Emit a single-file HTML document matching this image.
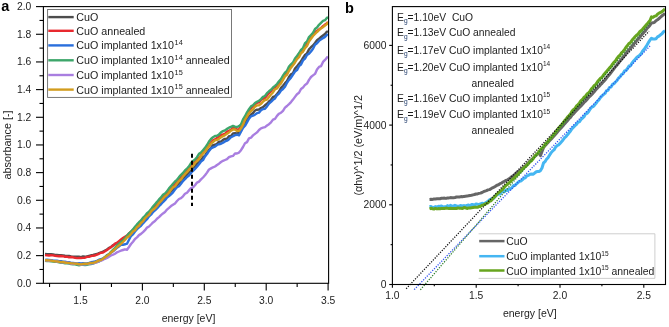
<!DOCTYPE html>
<html><head><meta charset="utf-8"><style>html,body{margin:0;padding:0;background:#fff;width:669px;height:327px;overflow:hidden}svg{display:block;will-change:transform}</style></head>
<body><svg width="669" height="327" viewBox="0 0 669 327"><path d="M45.0,253.9 L47.0,254.1 L49.0,254.3 L51.0,254.1 L53.0,254.4 L55.0,254.9 L57.0,255.0 L59.0,255.1 L61.0,255.2 L63.0,255.4 L65.0,255.7 L67.0,255.9 L69.0,255.9 L71.0,256.5 L73.0,256.6 L75.0,256.8 L77.0,256.7 L79.0,256.8 L81.0,257.1 L83.0,256.5 L85.0,256.8 L87.0,256.3 L89.0,255.8 L91.0,255.3 L93.0,255.0 L95.0,254.5 L97.0,254.0 L99.0,253.2 L101.0,252.5 L103.0,251.7 L105.0,250.5 L107.0,249.5 L109.0,247.9 L111.0,247.2 L113.0,245.2 L115.0,244.2 L117.0,242.9 L119.0,242.2 L121.0,240.8 L123.0,239.8 L125.0,238.5 L127.0,236.5 L129.0,234.5 L131.0,232.8 L133.0,230.5 L135.0,228.9 L137.0,226.4 L139.0,224.7 L141.0,223.4 L143.0,221.0 L145.0,219.2 L147.0,217.2 L149.0,215.7 L151.0,213.2 L153.0,210.9 L155.0,209.6 L157.0,207.0 L159.0,204.7 L161.0,202.1 L163.0,200.6 L165.0,198.5 L167.0,196.4 L169.0,194.3 L171.0,191.3 L173.0,190.0 L175.0,187.3 L177.0,185.6 L179.0,183.2 L181.0,181.0 L183.0,178.8 L185.0,177.2 L187.0,174.8 L189.0,172.4 L191.0,170.9 L193.0,167.9 L195.0,166.4 L197.0,163.7 L199.0,162.3 L201.0,160.1 L203.0,157.2 L205.0,155.8 L207.0,152.4 L209.0,149.9 L211.0,147.7 L213.0,145.1 L215.0,144.8 L217.0,143.8 L219.0,141.7 L221.0,141.6 L223.0,139.9 L225.0,138.9 L227.0,138.7 L229.0,136.2 L231.0,136.0 L233.0,133.4 L235.0,133.3 L237.0,133.5 L239.0,132.7 L241.0,129.4 L243.0,125.8 L245.0,122.9 L247.0,119.8 L249.0,116.7 L251.0,114.5 L253.0,113.1 L255.0,110.5 L257.0,109.7 L259.0,109.5 L261.0,108.0 L263.0,107.2 L265.0,105.3 L267.0,103.8 L269.0,101.5 L271.0,99.8 L273.0,97.0 L275.0,96.3 L277.0,94.0 L279.0,91.5 L281.0,87.9 L283.0,85.7 L285.0,83.2 L287.0,81.1 L289.0,76.9 L291.0,74.3 L293.0,73.2 L295.0,68.6 L297.0,66.4 L299.0,63.7 L301.0,61.4 L303.0,57.9 L305.0,55.0 L307.0,53.4 L309.0,49.4 L311.0,47.2 L313.0,45.4 L315.0,43.0 L317.0,40.3 L319.0,38.8 L321.0,37.0 L323.0,35.5 L325.0,34.0 L327.0,31.6 L328.0,31.9" fill="none" stroke="#4d4d4d" stroke-width="2.4" stroke-linejoin="round"/>
<path d="M45.0,255.1 L47.0,255.4 L49.0,255.5 L51.0,255.3 L53.0,255.4 L55.0,255.8 L57.0,256.0 L59.0,256.2 L61.0,256.0 L63.0,256.2 L65.0,256.8 L67.0,256.6 L69.0,257.3 L71.0,257.0 L73.0,257.3 L75.0,257.8 L77.0,258.1 L79.0,258.0 L81.0,258.0 L83.0,257.9 L85.0,257.7 L87.0,256.9 L89.0,256.9 L91.0,256.2 L93.0,255.7 L95.0,255.5 L97.0,254.6 L99.0,253.8 L101.0,252.8 L103.0,252.5 L105.0,251.2 L107.0,249.9 L109.0,248.6 L111.0,247.0 L113.0,245.8 L115.0,243.7 L117.0,242.9 L119.0,241.1 L121.0,239.5 L123.0,238.1 L125.0,236.7 L127.0,235.5 L129.0,233.4 L131.0,231.7 L133.0,230.1 L135.0,227.9 L137.0,226.1 L139.0,223.6 L141.0,221.5 L143.0,219.1 L145.0,217.2 L147.0,215.0 L149.0,213.2 L151.0,210.6 L153.0,208.8 L155.0,206.5 L157.0,204.0 L159.0,201.5 L161.0,199.8 L163.0,197.8 L165.0,194.8 L167.0,192.6 L169.0,191.1 L171.0,188.2 L173.0,186.0 L175.0,184.3 L177.0,181.3 L179.0,179.3 L181.0,177.5 L183.0,174.5 L185.0,172.9 L187.0,170.4 L189.0,169.1 L191.0,166.4 L193.0,163.8 L195.0,161.3 L197.0,160.1 L199.0,157.9 L201.0,155.5 L203.0,152.5 L205.0,150.7 L207.0,147.6 L209.0,145.7 L211.0,142.3 L213.0,140.4 L215.0,139.4 L217.0,138.0 L219.0,136.9 L221.0,135.0 L223.0,134.5 L225.0,133.8 L227.0,131.6 L229.0,130.9 L231.0,129.7 L233.0,128.0 L235.0,127.5 L237.0,129.8 L239.0,129.3 L241.0,125.5 L243.0,122.7 L245.0,118.2 L247.0,114.8 L249.0,110.4 L251.0,108.1 L253.0,106.1 L255.0,104.2 L257.0,102.7 L259.0,102.4 L261.0,99.9 L263.0,98.8 L265.0,97.9 L267.0,95.5 L269.0,93.0 L271.0,91.2 L273.0,88.4 L275.0,87.4 L277.0,85.3 L279.0,83.3 L281.0,80.1 L283.0,77.6 L285.0,74.9 L287.0,72.4 L289.0,69.1 L291.0,65.1 L293.0,63.6 L295.0,60.5 L297.0,57.0 L299.0,53.9 L301.0,52.3 L303.0,49.2 L305.0,47.1 L307.0,44.0 L309.0,39.6 L311.0,37.2 L313.0,35.0 L315.0,32.0 L317.0,30.9 L319.0,29.5 L321.0,28.1 L323.0,26.1 L325.0,24.6 L327.0,23.3 L328.0,21.9" fill="none" stroke="#e8292f" stroke-width="2.4" stroke-linejoin="round"/>
<path d="M45.0,259.9 L47.0,259.8 L49.0,259.9 L51.0,260.1 L53.0,260.5 L55.0,260.6 L57.0,260.8 L59.0,261.2 L61.0,261.2 L63.0,261.7 L65.0,261.8 L67.0,262.2 L69.0,262.2 L71.0,262.9 L73.0,263.0 L75.0,263.1 L77.0,263.4 L79.0,263.3 L81.0,263.4 L83.0,263.3 L85.0,263.5 L87.0,263.4 L89.0,262.9 L91.0,262.3 L93.0,261.9 L95.0,261.5 L97.0,260.9 L99.0,259.7 L101.0,259.2 L103.0,258.2 L105.0,257.1 L107.0,255.2 L109.0,254.3 L111.0,252.4 L113.0,251.2 L115.0,249.6 L117.0,247.7 L119.0,246.4 L121.0,244.8 L123.0,244.7 L125.0,244.3 L127.0,243.7 L129.0,239.7 L131.0,236.0 L133.0,234.4 L135.0,231.6 L137.0,229.2 L139.0,227.3 L141.0,225.7 L143.0,223.3 L145.0,221.2 L147.0,219.2 L149.0,216.4 L151.0,214.7 L153.0,212.0 L155.0,210.4 L157.0,208.4 L159.0,206.1 L161.0,204.3 L163.0,202.0 L165.0,200.2 L167.0,197.6 L169.0,196.1 L171.0,194.3 L173.0,192.3 L175.0,189.6 L177.0,187.2 L179.0,186.2 L181.0,183.7 L183.0,181.0 L185.0,179.2 L187.0,177.0 L189.0,175.6 L191.0,173.0 L193.0,170.8 L195.0,168.8 L197.0,166.7 L199.0,164.3 L201.0,161.5 L203.0,160.1 L205.0,156.5 L207.0,154.1 L209.0,150.9 L211.0,148.4 L213.0,147.4 L215.0,146.6 L217.0,145.0 L219.0,144.2 L221.0,143.8 L223.0,142.8 L225.0,141.4 L227.0,140.7 L229.0,139.2 L231.0,137.2 L233.0,136.2 L235.0,135.1 L237.0,134.7 L239.0,135.3 L241.0,131.7 L243.0,128.0 L245.0,125.8 L247.0,122.3 L249.0,118.7 L251.0,116.3 L253.0,115.7 L255.0,114.6 L257.0,113.2 L259.0,112.6 L261.0,110.3 L263.0,109.0 L265.0,108.7 L267.0,106.4 L269.0,103.5 L271.0,101.8 L273.0,99.8 L275.0,98.5 L277.0,95.2 L279.0,93.6 L281.0,90.6 L283.0,89.0 L285.0,86.8 L287.0,82.8 L289.0,79.9 L291.0,77.6 L293.0,74.5 L295.0,71.5 L297.0,70.1 L299.0,66.2 L301.0,64.5 L303.0,60.4 L305.0,58.6 L307.0,54.9 L309.0,53.7 L311.0,51.4 L313.0,48.8 L315.0,44.7 L317.0,43.3 L319.0,40.9 L321.0,39.4 L323.0,38.1 L325.0,36.9 L327.0,34.7 L328.0,35.1" fill="none" stroke="#2a6fdc" stroke-width="2.4" stroke-linejoin="round"/>
<path d="M45.0,260.9 L47.0,261.1 L49.0,261.0 L51.0,261.4 L53.0,261.5 L55.0,261.8 L57.0,261.8 L59.0,262.3 L61.0,262.7 L63.0,262.9 L65.0,263.2 L67.0,263.3 L69.0,263.5 L71.0,264.1 L73.0,264.3 L75.0,264.4 L77.0,264.9 L79.0,265.2 L81.0,264.9 L83.0,264.9 L85.0,265.1 L87.0,264.7 L89.0,264.4 L91.0,264.0 L93.0,263.6 L95.0,262.6 L97.0,262.0 L99.0,261.5 L101.0,260.2 L103.0,259.1 L105.0,257.2 L107.0,255.5 L109.0,254.2 L111.0,251.8 L113.0,249.8 L115.0,247.8 L117.0,245.6 L119.0,243.7 L121.0,242.0 L123.0,240.3 L125.0,238.3 L127.0,235.8 L129.0,233.4 L131.0,231.6 L133.0,229.4 L135.0,226.8 L137.0,224.4 L139.0,222.2 L141.0,220.4 L143.0,217.6 L145.0,216.0 L147.0,213.1 L149.0,211.6 L151.0,209.4 L153.0,206.5 L155.0,204.2 L157.0,201.9 L159.0,199.4 L161.0,197.4 L163.0,194.8 L165.0,193.5 L167.0,191.3 L169.0,188.3 L171.0,186.2 L173.0,183.7 L175.0,181.5 L177.0,179.8 L179.0,177.1 L181.0,174.8 L183.0,173.0 L185.0,170.4 L187.0,168.5 L189.0,166.4 L191.0,163.1 L193.0,160.9 L195.0,159.6 L197.0,157.2 L199.0,153.8 L201.0,152.6 L203.0,150.2 L205.0,147.9 L207.0,145.0 L209.0,141.5 L211.0,139.0 L213.0,137.2 L215.0,136.0 L217.0,135.7 L219.0,134.4 L221.0,132.3 L223.0,131.1 L225.0,130.3 L227.0,128.9 L229.0,127.7 L231.0,126.8 L233.0,125.9 L235.0,126.6 L237.0,127.0 L239.0,126.1 L241.0,124.4 L243.0,119.4 L245.0,116.2 L247.0,112.4 L249.0,109.2 L251.0,106.4 L253.0,105.2 L255.0,103.0 L257.0,101.7 L259.0,100.7 L261.0,99.1 L263.0,96.9 L265.0,96.0 L267.0,93.1 L269.0,91.3 L271.0,89.7 L273.0,87.5 L275.0,85.9 L277.0,84.0 L279.0,81.3 L281.0,79.2 L283.0,75.7 L285.0,72.6 L287.0,70.8 L289.0,66.6 L291.0,64.3 L293.0,62.5 L295.0,58.5 L297.0,56.0 L299.0,53.3 L301.0,49.9 L303.0,48.0 L305.0,43.1 L307.0,41.5 L309.0,37.1 L311.0,35.0 L313.0,32.9 L315.0,29.0 L317.0,27.5 L319.0,24.8 L321.0,22.8 L323.0,20.9 L325.0,20.2 L327.0,17.7 L328.0,17.5" fill="none" stroke="#3da66a" stroke-width="2.4" stroke-linejoin="round"/>
<path d="M45.0,260.3 L47.0,260.5 L49.0,260.8 L51.0,260.8 L53.0,260.9 L55.0,261.1 L57.0,261.5 L59.0,261.9 L61.0,262.2 L63.0,262.1 L65.0,262.5 L67.0,262.7 L69.0,263.0 L71.0,263.7 L73.0,263.9 L75.0,263.8 L77.0,263.9 L79.0,264.3 L81.0,264.6 L83.0,264.4 L85.0,264.2 L87.0,264.1 L89.0,263.9 L91.0,263.4 L93.0,263.3 L95.0,262.9 L97.0,262.2 L99.0,261.2 L101.0,260.6 L103.0,259.8 L105.0,258.8 L107.0,258.0 L109.0,256.7 L111.0,255.5 L113.0,254.7 L115.0,253.7 L117.0,252.3 L119.0,251.5 L121.0,250.7 L123.0,250.0 L125.0,249.3 L127.0,249.8 L129.0,247.0 L131.0,244.0 L133.0,241.7 L135.0,239.0 L137.0,237.4 L139.0,235.1 L141.0,233.9 L143.0,232.2 L145.0,230.2 L147.0,227.6 L149.0,226.5 L151.0,224.5 L153.0,222.4 L155.0,221.0 L157.0,218.7 L159.0,217.1 L161.0,215.1 L163.0,213.4 L165.0,212.0 L167.0,209.6 L169.0,207.9 L171.0,206.1 L173.0,204.7 L175.0,203.4 L177.0,201.0 L179.0,199.0 L181.0,198.1 L183.0,196.3 L185.0,193.8 L187.0,192.7 L189.0,190.4 L191.0,188.1 L193.0,187.4 L195.0,185.2 L197.0,182.6 L199.0,181.6 L201.0,179.4 L203.0,177.5 L205.0,175.3 L207.0,172.6 L209.0,169.5 L211.0,168.4 L213.0,167.3 L215.0,166.5 L217.0,165.0 L219.0,163.7 L221.0,162.0 L223.0,160.8 L225.0,160.0 L227.0,159.2 L229.0,157.2 L231.0,156.4 L233.0,155.9 L235.0,153.5 L237.0,153.5 L239.0,152.6 L241.0,150.2 L243.0,147.0 L245.0,143.3 L247.0,142.1 L249.0,138.4 L251.0,137.7 L253.0,135.4 L255.0,133.9 L257.0,132.4 L259.0,130.0 L261.0,128.3 L263.0,127.6 L265.0,127.1 L267.0,125.5 L269.0,124.2 L271.0,122.3 L273.0,119.6 L275.0,118.8 L277.0,115.8 L279.0,113.7 L281.0,112.7 L283.0,110.8 L285.0,107.7 L287.0,106.0 L289.0,104.1 L291.0,102.1 L293.0,99.6 L295.0,96.9 L297.0,94.2 L299.0,92.8 L301.0,89.0 L303.0,87.6 L305.0,84.9 L307.0,83.6 L309.0,79.9 L311.0,77.0 L313.0,75.4 L315.0,73.9 L317.0,69.4 L319.0,66.9 L321.0,66.2 L323.0,61.9 L325.0,59.9 L327.0,57.5 L328.0,56.6" fill="none" stroke="#a97ee0" stroke-width="2.4" stroke-linejoin="round"/>
<path d="M45.0,260.2 L47.0,260.3 L49.0,260.4 L51.0,260.6 L53.0,261.0 L55.0,261.3 L57.0,261.4 L59.0,261.7 L61.0,262.1 L63.0,261.9 L65.0,262.6 L67.0,262.8 L69.0,262.9 L71.0,263.3 L73.0,263.4 L75.0,263.6 L77.0,263.8 L79.0,264.1 L81.0,264.4 L83.0,263.9 L85.0,263.7 L87.0,263.8 L89.0,263.3 L91.0,262.9 L93.0,262.7 L95.0,262.4 L97.0,261.4 L99.0,260.4 L101.0,260.0 L103.0,258.8 L105.0,257.2 L107.0,255.7 L109.0,254.5 L111.0,252.4 L113.0,251.0 L115.0,249.2 L117.0,247.0 L119.0,245.6 L121.0,243.9 L123.0,242.0 L125.0,240.0 L127.0,237.6 L129.0,236.3 L131.0,234.0 L133.0,231.6 L135.0,230.2 L137.0,227.3 L139.0,225.7 L141.0,223.0 L143.0,221.4 L145.0,218.3 L147.0,216.4 L149.0,214.9 L151.0,211.7 L153.0,209.7 L155.0,208.2 L157.0,206.0 L159.0,203.1 L161.0,201.2 L163.0,198.8 L165.0,196.5 L167.0,195.0 L169.0,192.7 L171.0,189.8 L173.0,187.4 L175.0,186.2 L177.0,183.5 L179.0,181.1 L181.0,179.5 L183.0,176.6 L185.0,174.2 L187.0,172.2 L189.0,169.7 L191.0,167.9 L193.0,165.9 L195.0,163.0 L197.0,161.1 L199.0,159.2 L201.0,155.9 L203.0,153.5 L205.0,151.7 L207.0,148.8 L209.0,146.2 L211.0,143.6 L213.0,142.0 L215.0,140.4 L217.0,139.9 L219.0,138.8 L221.0,137.3 L223.0,136.1 L225.0,135.1 L227.0,133.7 L229.0,132.4 L231.0,130.7 L233.0,129.5 L235.0,129.5 L237.0,130.9 L239.0,130.9 L241.0,128.3 L243.0,124.7 L245.0,119.9 L247.0,116.7 L249.0,113.1 L251.0,111.0 L253.0,109.3 L255.0,106.6 L257.0,105.4 L259.0,105.4 L261.0,103.8 L263.0,101.7 L265.0,100.0 L267.0,99.5 L269.0,96.9 L271.0,94.5 L273.0,92.4 L275.0,89.3 L277.0,88.5 L279.0,85.5 L281.0,83.4 L283.0,79.9 L285.0,76.3 L287.0,74.7 L289.0,70.8 L291.0,67.6 L293.0,65.3 L295.0,62.5 L297.0,59.2 L299.0,57.2 L301.0,53.3 L303.0,51.7 L305.0,48.1 L307.0,45.9 L309.0,41.5 L311.0,38.8 L313.0,36.0 L315.0,34.0 L317.0,32.0 L319.0,30.2 L321.0,28.3 L323.0,27.2 L325.0,25.5 L327.0,24.1 L328.0,21.9" fill="none" stroke="#d29c1e" stroke-width="2.4" stroke-linejoin="round"/>
<line x1="192" y1="153.7" x2="192" y2="206" stroke="#000" stroke-width="2" stroke-dasharray="4 3"/>
<rect x="43.4" y="6.6" width="285.20000000000005" height="276.7" fill="none" stroke="#000" stroke-width="1.1"/>
<line x1="36" y1="283.30" x2="43.4" y2="283.30" stroke="#000" stroke-width="1.1"/>
<text x="31.3" y="286.60" text-anchor="end" font-family="'Liberation Sans', sans-serif" font-size="10.3" fill="#1c1c1c">0.0</text>
<line x1="39.5" y1="269.47" x2="43.4" y2="269.47" stroke="#000" stroke-width="1.1"/>
<line x1="36" y1="255.63" x2="43.4" y2="255.63" stroke="#000" stroke-width="1.1"/>
<text x="31.3" y="258.93" text-anchor="end" font-family="'Liberation Sans', sans-serif" font-size="10.3" fill="#1c1c1c">0.2</text>
<line x1="39.5" y1="241.80" x2="43.4" y2="241.80" stroke="#000" stroke-width="1.1"/>
<line x1="36" y1="227.96" x2="43.4" y2="227.96" stroke="#000" stroke-width="1.1"/>
<text x="31.3" y="231.26" text-anchor="end" font-family="'Liberation Sans', sans-serif" font-size="10.3" fill="#1c1c1c">0.4</text>
<line x1="39.5" y1="214.12" x2="43.4" y2="214.12" stroke="#000" stroke-width="1.1"/>
<line x1="36" y1="200.29" x2="43.4" y2="200.29" stroke="#000" stroke-width="1.1"/>
<text x="31.3" y="203.59" text-anchor="end" font-family="'Liberation Sans', sans-serif" font-size="10.3" fill="#1c1c1c">0.6</text>
<line x1="39.5" y1="186.46" x2="43.4" y2="186.46" stroke="#000" stroke-width="1.1"/>
<line x1="36" y1="172.62" x2="43.4" y2="172.62" stroke="#000" stroke-width="1.1"/>
<text x="31.3" y="175.92" text-anchor="end" font-family="'Liberation Sans', sans-serif" font-size="10.3" fill="#1c1c1c">0.8</text>
<line x1="39.5" y1="158.79" x2="43.4" y2="158.79" stroke="#000" stroke-width="1.1"/>
<line x1="36" y1="144.95" x2="43.4" y2="144.95" stroke="#000" stroke-width="1.1"/>
<text x="31.3" y="148.25" text-anchor="end" font-family="'Liberation Sans', sans-serif" font-size="10.3" fill="#1c1c1c">1.0</text>
<line x1="39.5" y1="131.12" x2="43.4" y2="131.12" stroke="#000" stroke-width="1.1"/>
<line x1="36" y1="117.28" x2="43.4" y2="117.28" stroke="#000" stroke-width="1.1"/>
<text x="31.3" y="120.58" text-anchor="end" font-family="'Liberation Sans', sans-serif" font-size="10.3" fill="#1c1c1c">1.2</text>
<line x1="39.5" y1="103.45" x2="43.4" y2="103.45" stroke="#000" stroke-width="1.1"/>
<line x1="36" y1="89.61" x2="43.4" y2="89.61" stroke="#000" stroke-width="1.1"/>
<text x="31.3" y="92.91" text-anchor="end" font-family="'Liberation Sans', sans-serif" font-size="10.3" fill="#1c1c1c">1.4</text>
<line x1="39.5" y1="75.78" x2="43.4" y2="75.78" stroke="#000" stroke-width="1.1"/>
<line x1="36" y1="61.94" x2="43.4" y2="61.94" stroke="#000" stroke-width="1.1"/>
<text x="31.3" y="65.24" text-anchor="end" font-family="'Liberation Sans', sans-serif" font-size="10.3" fill="#1c1c1c">1.6</text>
<line x1="39.5" y1="48.11" x2="43.4" y2="48.11" stroke="#000" stroke-width="1.1"/>
<line x1="36" y1="34.27" x2="43.4" y2="34.27" stroke="#000" stroke-width="1.1"/>
<text x="31.3" y="37.57" text-anchor="end" font-family="'Liberation Sans', sans-serif" font-size="10.3" fill="#1c1c1c">1.8</text>
<line x1="39.5" y1="20.44" x2="43.4" y2="20.44" stroke="#000" stroke-width="1.1"/>
<line x1="36" y1="6.60" x2="43.4" y2="6.60" stroke="#000" stroke-width="1.1"/>
<text x="31.3" y="9.90" text-anchor="end" font-family="'Liberation Sans', sans-serif" font-size="10.3" fill="#1c1c1c">2.0</text>
<line x1="49.55" y1="283.3" x2="49.55" y2="287" stroke="#000" stroke-width="1.1"/>
<line x1="80.50" y1="283.3" x2="80.50" y2="290.6" stroke="#000" stroke-width="1.1"/>
<text x="80.50" y="303.9" text-anchor="middle" font-family="'Liberation Sans', sans-serif" font-size="10.3" fill="#1c1c1c">1.5</text>
<line x1="111.45" y1="283.3" x2="111.45" y2="287" stroke="#000" stroke-width="1.1"/>
<line x1="142.40" y1="283.3" x2="142.40" y2="290.6" stroke="#000" stroke-width="1.1"/>
<text x="142.40" y="303.9" text-anchor="middle" font-family="'Liberation Sans', sans-serif" font-size="10.3" fill="#1c1c1c">2.0</text>
<line x1="173.35" y1="283.3" x2="173.35" y2="287" stroke="#000" stroke-width="1.1"/>
<line x1="204.30" y1="283.3" x2="204.30" y2="290.6" stroke="#000" stroke-width="1.1"/>
<text x="204.30" y="303.9" text-anchor="middle" font-family="'Liberation Sans', sans-serif" font-size="10.3" fill="#1c1c1c">2.5</text>
<line x1="235.25" y1="283.3" x2="235.25" y2="287" stroke="#000" stroke-width="1.1"/>
<line x1="266.20" y1="283.3" x2="266.20" y2="290.6" stroke="#000" stroke-width="1.1"/>
<text x="266.20" y="303.9" text-anchor="middle" font-family="'Liberation Sans', sans-serif" font-size="10.3" fill="#1c1c1c">3.0</text>
<line x1="297.15" y1="283.3" x2="297.15" y2="287" stroke="#000" stroke-width="1.1"/>
<line x1="328.10" y1="283.3" x2="328.10" y2="290.6" stroke="#000" stroke-width="1.1"/>
<text x="328.10" y="303.9" text-anchor="middle" font-family="'Liberation Sans', sans-serif" font-size="10.3" fill="#1c1c1c">3.5</text>
<text x="188.5" y="322.2" text-anchor="middle" font-family="'Liberation Sans', sans-serif" font-size="10.5" fill="#1c1c1c">energy [eV]</text>
<text transform="translate(10.7,145) rotate(-90)" text-anchor="middle" font-family="'Liberation Sans', sans-serif" font-size="10.8" fill="#1c1c1c">absorbance [-]</text>
<text x="1.2" y="10.6" font-family="'Liberation Sans', sans-serif" font-size="14.5" font-weight="bold" fill="#000">a</text>
<rect x="47.6" y="9.5" width="183.9" height="87.9" fill="#fff" stroke="#6a6a6a" stroke-width="0.9"/>
<line x1="48.3" y1="17.1" x2="73.7" y2="17.1" stroke="#4d4d4d" stroke-width="2.4"/>
<text transform="translate(76.3,21.0) scale(1.03,1)" font-family="'Liberation Sans', sans-serif" font-size="10.4" fill="#1c1c1c">CuO</text>
<line x1="48.3" y1="30.8" x2="73.7" y2="30.8" stroke="#e8292f" stroke-width="2.4"/>
<text transform="translate(76.3,34.7) scale(1.03,1)" font-family="'Liberation Sans', sans-serif" font-size="10.4" fill="#1c1c1c">CuO annealed</text>
<line x1="48.3" y1="45.4" x2="73.7" y2="45.4" stroke="#2a6fdc" stroke-width="2.4"/>
<text transform="translate(76.3,49.3) scale(1.03,1)" font-family="'Liberation Sans', sans-serif" font-size="10.4" fill="#1c1c1c">CuO implanted 1x10<tspan font-size="7.1" dx="0.7" dy="-4.2">14</tspan></text>
<line x1="48.3" y1="60.3" x2="73.7" y2="60.3" stroke="#3da66a" stroke-width="2.4"/>
<text transform="translate(76.3,64.2) scale(1.03,1)" font-family="'Liberation Sans', sans-serif" font-size="10.4" fill="#1c1c1c">CuO implanted 1x10<tspan font-size="7.1" dx="0.7" dy="-4.2">14</tspan><tspan dy="4.2"> annealed</tspan></text>
<line x1="48.3" y1="75.0" x2="73.7" y2="75.0" stroke="#a97ee0" stroke-width="2.4"/>
<text transform="translate(76.3,78.9) scale(1.03,1)" font-family="'Liberation Sans', sans-serif" font-size="10.4" fill="#1c1c1c">CuO implanted 1x10<tspan font-size="7.1" dx="0.7" dy="-4.2">15</tspan></text>
<line x1="48.3" y1="89.6" x2="73.7" y2="89.6" stroke="#d29c1e" stroke-width="2.4"/>
<text transform="translate(76.3,93.5) scale(1.03,1)" font-family="'Liberation Sans', sans-serif" font-size="10.4" fill="#1c1c1c">CuO implanted 1x10<tspan font-size="7.1" dx="0.7" dy="-4.2">15</tspan><tspan dy="4.2"> annealed</tspan></text>
<path d="M429.5,199.4 L431.0,199.3 L432.5,199.4 L434.0,199.0 L435.5,198.9 L437.0,198.7 L438.5,198.8 L440.0,198.7 L441.5,198.3 L443.0,198.2 L444.5,198.1 L446.0,198.4 L447.5,198.0 L449.0,197.9 L450.5,197.6 L452.0,197.7 L453.5,197.7 L455.0,197.5 L456.5,197.0 L458.0,197.1 L459.5,197.0 L461.0,196.6 L462.5,196.8 L464.0,196.4 L465.5,196.2 L467.0,196.1 L468.5,195.8 L470.0,195.5 L471.5,195.3 L473.0,194.9 L474.5,194.5 L476.0,194.0 L477.5,193.9 L479.0,193.4 L480.5,193.1 L482.0,192.5 L483.5,191.7 L485.0,191.1 L486.5,190.6 L488.0,189.9 L489.5,189.6 L491.0,188.7 L492.5,187.8 L494.0,187.2 L495.5,186.3 L497.0,185.2 L498.5,184.8 L500.0,183.7 L501.5,183.2 L503.0,182.0 L504.5,181.2 L506.0,180.4 L507.5,179.8 L509.0,178.9 L510.5,177.8 L512.0,176.4 L513.5,175.4 L515.0,174.3 L516.5,172.7 L518.0,172.0 L519.5,170.7 L521.0,169.5 L522.5,168.1 L524.0,166.8 L525.5,165.7 L527.0,163.9 L528.5,162.5 L530.0,161.0 L531.5,159.6 L533.0,158.4 L534.5,156.6 L536.0,155.5 L537.5,153.8 L539.0,152.7 L540.5,155.6 L542.0,151.5 L543.5,147.7 L545.0,145.6 L546.5,144.1 L548.0,142.4 L549.5,140.8 L551.0,139.2 L552.5,137.6 L554.0,135.9 L555.5,134.3 L557.0,132.5 L558.5,130.6 L560.0,129.0 L561.5,127.4 L563.0,125.8 L564.5,123.9 L566.0,122.2 L567.5,120.6 L569.0,118.7 L570.5,117.4 L572.0,115.2 L573.5,113.9 L575.0,112.1 L576.5,110.4 L578.0,108.9 L579.5,107.3 L581.0,105.9 L582.5,104.3 L584.0,102.5 L585.5,101.1 L587.0,99.5 L588.5,97.5 L590.0,96.2 L591.5,94.6 L593.0,93.1 L594.5,91.4 L596.0,89.6 L597.5,87.9 L599.0,86.5 L600.5,84.7 L602.0,83.3 L603.5,81.6 L605.0,80.0 L606.5,78.0 L608.0,76.1 L609.5,74.5 L611.0,72.5 L612.5,70.5 L614.0,68.7 L615.5,66.7 L617.0,65.0 L618.5,63.0 L620.0,61.0 L621.5,59.4 L623.0,57.5 L624.5,55.6 L626.0,53.4 L627.5,51.5 L629.0,49.9 L630.5,48.1 L632.0,46.3 L633.5,44.3 L635.0,42.8 L636.5,40.9 L638.0,39.1 L639.5,37.5 L641.0,35.7 L642.5,34.0 L644.0,32.3 L645.5,30.7 L647.0,28.5 L648.5,27.0 L650.0,25.3 L651.5,23.0 L653.0,22.8 L654.5,22.3 L656.0,20.7 L657.5,19.8 L659.0,18.5 L660.5,17.2 L662.0,15.8 L663.5,14.7 L665.0,13.4" fill="none" stroke="#666666" stroke-width="3" stroke-linejoin="round"/>
<path d="M429.5,206.8 L431.0,206.4 L432.5,207.4 L434.0,207.1 L435.5,206.6 L437.0,206.9 L438.5,206.3 L440.0,206.5 L441.5,205.9 L443.0,206.9 L444.5,206.7 L446.0,206.7 L447.5,205.6 L449.0,206.7 L450.5,205.4 L452.0,206.2 L453.5,206.0 L455.0,205.3 L456.5,205.8 L458.0,206.5 L459.5,206.0 L461.0,205.5 L462.5,206.2 L464.0,205.5 L465.5,206.2 L467.0,205.4 L468.5,204.9 L470.0,206.2 L471.5,204.6 L473.0,204.6 L474.5,205.2 L476.0,203.9 L477.5,204.3 L479.0,204.5 L480.5,203.9 L482.0,203.3 L483.5,203.6 L485.0,203.3 L486.5,202.2 L488.0,201.3 L489.5,199.9 L491.0,199.1 L492.5,199.0 L494.0,198.0 L495.5,195.6 L497.0,194.9 L498.5,194.0 L500.0,194.0 L501.5,192.3 L503.0,191.5 L504.5,191.6 L506.0,190.0 L507.5,190.5 L509.0,188.9 L510.5,188.7 L512.0,187.6 L513.5,185.6 L515.0,185.4 L516.5,183.8 L518.0,182.5 L519.5,181.2 L521.0,181.0 L522.5,179.6 L524.0,178.1 L525.5,177.7 L527.0,175.7 L528.5,175.4 L530.0,174.3 L531.5,174.1 L533.0,174.3 L534.5,173.2 L536.0,172.0 L537.5,171.4 L539.0,171.5 L540.5,170.6 L542.0,168.0 L543.5,163.0 L545.0,161.7 L546.5,159.3 L548.0,157.7 L549.5,155.2 L551.0,152.9 L552.5,151.1 L554.0,149.9 L555.5,147.3 L557.0,145.7 L558.5,145.0 L560.0,143.4 L561.5,141.7 L563.0,140.0 L564.5,137.9 L566.0,136.7 L567.5,134.7 L569.0,132.8 L570.5,131.0 L572.0,128.7 L573.5,127.1 L575.0,125.6 L576.5,124.3 L578.0,122.1 L579.5,121.8 L581.0,119.5 L582.5,118.1 L584.0,116.7 L585.5,114.0 L587.0,113.4 L588.5,111.8 L590.0,109.2 L591.5,107.3 L593.0,106.7 L594.5,105.1 L596.0,103.3 L597.5,101.1 L599.0,99.8 L600.5,97.4 L602.0,95.9 L603.5,94.5 L605.0,93.4 L606.5,90.7 L608.0,90.4 L609.5,87.4 L611.0,87.1 L612.5,84.4 L614.0,83.6 L615.5,82.0 L617.0,80.5 L618.5,78.1 L620.0,76.8 L621.5,74.6 L623.0,73.8 L624.5,71.0 L626.0,70.5 L627.5,68.5 L629.0,66.0 L630.5,65.7 L632.0,63.1 L633.5,61.1 L635.0,59.7 L636.5,57.7 L638.0,56.5 L639.5,55.4 L641.0,53.9 L642.5,51.3 L644.0,49.5 L645.5,47.3 L647.0,45.1 L648.5,42.4 L650.0,40.2 L651.5,38.2 L653.0,39.1 L654.5,39.1 L656.0,38.7 L657.5,36.9 L659.0,36.1 L660.5,34.8 L662.0,33.7 L663.5,31.8 L665.0,30.9" fill="none" stroke="#45b6f2" stroke-width="3" stroke-linejoin="round"/>
<path d="M429.5,208.8 L431.0,208.3 L432.5,208.7 L434.0,209.0 L435.5,208.4 L437.0,208.9 L438.5,208.6 L440.0,208.8 L441.5,208.4 L443.0,208.6 L444.5,208.5 L446.0,208.1 L447.5,208.3 L449.0,208.4 L450.5,208.3 L452.0,208.4 L453.5,208.6 L455.0,208.5 L456.5,208.5 L458.0,207.9 L459.5,208.3 L461.0,208.2 L462.5,208.5 L464.0,207.6 L465.5,207.8 L467.0,208.5 L468.5,207.9 L470.0,208.1 L471.5,207.8 L473.0,207.5 L474.5,207.3 L476.0,207.2 L477.5,207.3 L479.0,206.6 L480.5,206.4 L482.0,205.3 L483.5,204.9 L485.0,204.1 L486.5,203.5 L488.0,202.8 L489.5,201.2 L491.0,200.8 L492.5,199.1 L494.0,197.3 L495.5,196.0 L497.0,194.1 L498.5,192.8 L500.0,191.8 L501.5,190.3 L503.0,189.0 L504.5,186.9 L506.0,185.4 L507.5,184.3 L509.0,182.9 L510.5,181.7 L512.0,179.9 L513.5,178.8 L515.0,177.2 L516.5,175.5 L518.0,174.5 L519.5,172.4 L521.0,171.3 L522.5,169.4 L524.0,167.7 L525.5,166.6 L527.0,165.1 L528.5,163.6 L530.0,161.8 L531.5,160.7 L533.0,158.9 L534.5,156.6 L536.0,154.8 L537.5,153.9 L539.0,151.7 L540.5,149.7 L542.0,148.1 L543.5,146.9 L545.0,144.6 L546.5,143.0 L548.0,141.5 L549.5,139.3 L551.0,137.7 L552.5,136.2 L554.0,134.2 L555.5,132.2 L557.0,130.3 L558.5,128.2 L560.0,126.6 L561.5,124.8 L563.0,122.9 L564.5,120.9 L566.0,119.3 L567.5,117.0 L569.0,115.6 L570.5,114.0 L572.0,111.3 L573.5,109.6 L575.0,108.5 L576.5,105.9 L578.0,104.8 L579.5,102.9 L581.0,100.7 L582.5,99.5 L584.0,97.2 L585.5,96.2 L587.0,94.0 L588.5,92.9 L590.0,91.1 L591.5,88.7 L593.0,87.2 L594.5,85.3 L596.0,84.1 L597.5,81.8 L599.0,80.0 L600.5,78.3 L602.0,77.3 L603.5,75.0 L605.0,73.3 L606.5,71.6 L608.0,69.8 L609.5,67.8 L611.0,66.5 L612.5,64.1 L614.0,62.3 L615.5,60.8 L617.0,58.4 L618.5,56.5 L620.0,55.2 L621.5,52.9 L623.0,51.5 L624.5,49.6 L626.0,47.3 L627.5,45.5 L629.0,43.4 L630.5,42.4 L632.0,40.3 L633.5,38.6 L635.0,36.8 L636.5,35.3 L638.0,34.2 L639.5,32.0 L641.0,30.7 L642.5,29.2 L644.0,27.5 L645.5,25.8 L647.0,24.1 L648.5,22.3 L650.0,20.6 L651.5,16.9 L653.0,17.4 L654.5,16.3 L656.0,15.9 L657.5,14.2 L659.0,13.1 L660.5,12.5 L662.0,11.6 L663.5,10.3 L665.0,9.0" fill="none" stroke="#67a51e" stroke-width="3" stroke-linejoin="round"/>
<line x1="406.2" y1="288.7" x2="649" y2="31.2" stroke="#111" stroke-width="1.3" stroke-dasharray="1.2 1.4"/>
<line x1="414.2" y1="289.6" x2="650" y2="46" stroke="#3050f0" stroke-width="1.3" stroke-dasharray="1.2 1.4"/>
<line x1="420.4" y1="289.8" x2="650" y2="22.9" stroke="#2b7d2b" stroke-width="1.3" stroke-dasharray="1.2 1.4"/>
<rect x="392.4" y="6.6" width="273.1" height="277.9" fill="none" stroke="#000" stroke-width="1.1"/>
<line x1="389.2" y1="284.50" x2="392.4" y2="284.50" stroke="#000" stroke-width="1.1"/>
<text x="386.5" y="287.90" text-anchor="end" font-family="'Liberation Sans', sans-serif" font-size="10.3" fill="#1c1c1c">0</text>
<line x1="390.6" y1="244.65" x2="392.4" y2="244.65" stroke="#000" stroke-width="1.1"/>
<line x1="389.2" y1="204.80" x2="392.4" y2="204.80" stroke="#000" stroke-width="1.1"/>
<text x="386.5" y="208.20" text-anchor="end" font-family="'Liberation Sans', sans-serif" font-size="10.3" fill="#1c1c1c">2000</text>
<line x1="390.6" y1="164.95" x2="392.4" y2="164.95" stroke="#000" stroke-width="1.1"/>
<line x1="389.2" y1="125.10" x2="392.4" y2="125.10" stroke="#000" stroke-width="1.1"/>
<text x="386.5" y="128.50" text-anchor="end" font-family="'Liberation Sans', sans-serif" font-size="10.3" fill="#1c1c1c">4000</text>
<line x1="390.6" y1="85.25" x2="392.4" y2="85.25" stroke="#000" stroke-width="1.1"/>
<line x1="389.2" y1="45.40" x2="392.4" y2="45.40" stroke="#000" stroke-width="1.1"/>
<text x="386.5" y="48.80" text-anchor="end" font-family="'Liberation Sans', sans-serif" font-size="10.3" fill="#1c1c1c">6000</text>
<line x1="392.40" y1="284.5" x2="392.40" y2="287.8" stroke="#000" stroke-width="1.1"/>
<text x="392.40" y="298.8" text-anchor="middle" font-family="'Liberation Sans', sans-serif" font-size="10.3" fill="#1c1c1c">1.0</text>
<line x1="434.30" y1="284.5" x2="434.30" y2="286.2" stroke="#000" stroke-width="1.1"/>
<line x1="476.20" y1="284.5" x2="476.20" y2="287.8" stroke="#000" stroke-width="1.1"/>
<text x="476.20" y="298.8" text-anchor="middle" font-family="'Liberation Sans', sans-serif" font-size="10.3" fill="#1c1c1c">1.5</text>
<line x1="518.10" y1="284.5" x2="518.10" y2="286.2" stroke="#000" stroke-width="1.1"/>
<line x1="560.00" y1="284.5" x2="560.00" y2="287.8" stroke="#000" stroke-width="1.1"/>
<text x="560.00" y="298.8" text-anchor="middle" font-family="'Liberation Sans', sans-serif" font-size="10.3" fill="#1c1c1c">2.0</text>
<line x1="601.90" y1="284.5" x2="601.90" y2="286.2" stroke="#000" stroke-width="1.1"/>
<line x1="643.80" y1="284.5" x2="643.80" y2="287.8" stroke="#000" stroke-width="1.1"/>
<text x="643.80" y="298.8" text-anchor="middle" font-family="'Liberation Sans', sans-serif" font-size="10.3" fill="#1c1c1c">2.5</text>
<text x="529.8" y="316.5" text-anchor="middle" font-family="'Liberation Sans', sans-serif" font-size="10.5" fill="#1c1c1c">energy [eV]</text>
<text transform="translate(361.6,145.3) rotate(-90)" text-anchor="middle" font-family="'Liberation Sans', sans-serif" font-size="10.8" fill="#1c1c1c">(αhν)^1/2 (eV/m)^1/2</text>
<text x="345" y="12.8" font-family="'Liberation Sans', sans-serif" font-size="14.5" font-weight="bold" fill="#000">b</text>
<text x="397" y="20.8" font-family="'Liberation Sans', sans-serif" font-size="10.3" fill="#1c1c1c">E<tspan font-size="6.6" dy="2.6" fill="#1e3a6a">g</tspan><tspan dy="-2.6">=1.10eV &#160;CuO</tspan></text>
<text x="397" y="36.3" font-family="'Liberation Sans', sans-serif" font-size="10.3" fill="#1c1c1c">E<tspan font-size="6.6" dy="2.6" fill="#1e3a6a">g</tspan><tspan dy="-2.6">=1.13eV CuO annealed</tspan></text>
<text x="397" y="53.5" font-family="'Liberation Sans', sans-serif" font-size="10.3" fill="#1c1c1c">E<tspan font-size="6.6" dy="2.6" fill="#1e3a6a">g</tspan><tspan dy="-2.6">=1.17eV CuO implanted 1x10<tspan font-size="6.5" dy="-4.5">14</tspan></tspan></text>
<text x="397" y="70.8" font-family="'Liberation Sans', sans-serif" font-size="10.3" fill="#1c1c1c">E<tspan font-size="6.6" dy="2.6" fill="#1e3a6a">g</tspan><tspan dy="-2.6">=1.20eV CuO implanted 1x10<tspan font-size="6.5" dy="-4.5">14</tspan></tspan></text>
<text x="471.5" y="86.7" font-family="'Liberation Sans', sans-serif" font-size="10.3" fill="#1c1c1c">annealed</text>
<text x="397" y="101.5" font-family="'Liberation Sans', sans-serif" font-size="10.3" fill="#1c1c1c">E<tspan font-size="6.6" dy="2.6" fill="#1e3a6a">g</tspan><tspan dy="-2.6">=1.16eV CuO implanted 1x10<tspan font-size="6.5" dy="-4.5">15</tspan></tspan></text>
<text x="397" y="118.2" font-family="'Liberation Sans', sans-serif" font-size="10.3" fill="#1c1c1c">E<tspan font-size="6.6" dy="2.6" fill="#1e3a6a">g</tspan><tspan dy="-2.6">=1.19eV CuO implanted 1x10<tspan font-size="6.5" dy="-4.5">15</tspan></tspan></text>
<text x="471.5" y="134.2" font-family="'Liberation Sans', sans-serif" font-size="10.3" fill="#1c1c1c">annealed</text>
<rect x="478.6" y="233.8" width="176.3" height="44.6" fill="#fff" stroke="none"/>
<path d="M478.6,233.8 H654.9 V278.4 H478.6" fill="none" stroke="#c8c8c8" stroke-width="0.9"/>
<line x1="479.2" y1="241.1" x2="504.5" y2="241.1" stroke="#666666" stroke-width="2.5"/>
<text transform="translate(506.2,245.2) scale(1.013,1)" font-family="'Liberation Sans', sans-serif" font-size="10.3" fill="#1c1c1c">CuO</text>
<line x1="479.2" y1="256.2" x2="504.5" y2="256.2" stroke="#45b6f2" stroke-width="2.5"/>
<text transform="translate(506.2,260.3) scale(1.013,1)" font-family="'Liberation Sans', sans-serif" font-size="10.3" fill="#1c1c1c">CuO implanted 1x10<tspan font-size="6.5" dy="-4.5">15</tspan></text>
<line x1="479.2" y1="270.5" x2="504.5" y2="270.5" stroke="#67a51e" stroke-width="2.5"/>
<text transform="translate(506.2,274.6) scale(1.013,1)" font-family="'Liberation Sans', sans-serif" font-size="10.3" fill="#1c1c1c">CuO implanted 1x10<tspan font-size="6.5" dy="-4.5">15</tspan><tspan dy="4.5"> annealed</tspan></text></svg></body></html>
